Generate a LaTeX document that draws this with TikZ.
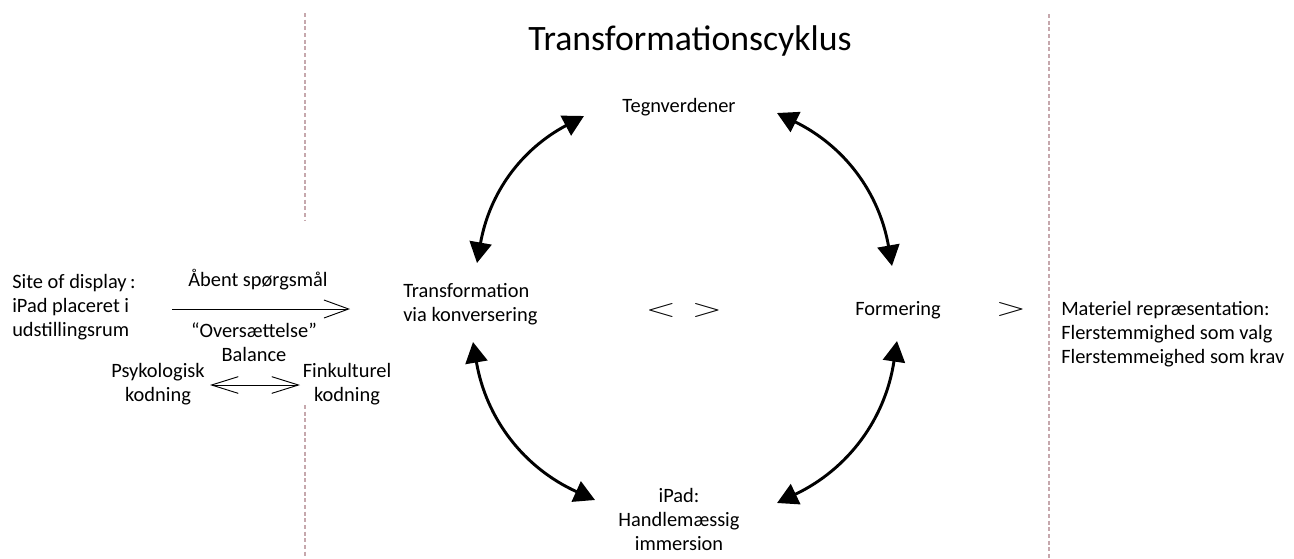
\documentclass[tikz,border=0pt]{standalone}
\usepackage{fontspec}
\setmainfont{Carlito}
\usepackage{graphicx}
\usetikzlibrary{arrows.meta}
\definecolor{sepcol}{RGB}{198,168,173}
% multi-line text whose baseline is the baseline of its first line
\newcommand{\mlines}[2]{\begin{tabular}[t]{@{}#1@{}}#2\end{tabular}}
\begin{document}
\begin{tikzpicture}[x=0.75pt,y=-0.75pt,
  txt/.style={font=\fontsize{15.3}{18}\selectfont, inner sep=0pt},
  sym/.style={inner sep=0pt},
  cyc/.style={line width=2.2pt,
    {Triangle[length=15.5pt,width=16.5pt]}-{Triangle[length=15.5pt,width=16.5pt]}},
  flow/.style={line width=0.7pt, -{Straight Barb[length=18.5pt,width=13.5pt]}},
  flowboth/.style={line width=0.7pt,
    {Straight Barb[length=20pt,width=12.5pt]}-{Straight Barb[length=20pt,width=12.5pt]}},
  sep/.style={draw=sepcol, line width=0.8pt, dash pattern=on 3pt off 2pt}]
\useasboundingbox (0,0) rectangle (1294,558);

% separators
\coordinate (s1a) at (305,13);  \coordinate (s1b) at (305,220);
\coordinate (s2a) at (305,405); \coordinate (s2b) at (305,558);
\coordinate (s3a) at (1049,14); \coordinate (s3b) at (1049,558);
\draw[sep] (s1a) -- (s1b);
\draw[sep] (s2a) -- (s2b);
\draw[sep] (s3a) -- (s3b);

% title
\node[anchor=base, inner sep=0pt, font=\fontsize{26.8}{30}\selectfont] (title) at (690,50) {Transformationscyklus};

% cycle stations
\node[txt, anchor=base] (tegn) at (679,112) {Tegnverdener};
\node[txt, anchor=base west] (trans) at (403,297) {\mlines{l}{Transformation\\via konversering}};
\node[txt, anchor=base] (form) at (898,315) {Formering};
\node[txt, anchor=base] (ipad) at (679,502) {\mlines{c}{iPad:\\Handlemæssig\\immersion}};

\node[sym] (lt) at (661,310) {\scalebox{2.9}[1.8]{$<$}};
\node[sym] (gt) at (707,310) {\scalebox{2.9}[1.8]{$>$}};
\node[sym] (gt2) at (1011,309) {\scalebox{2.9}[1.8]{$>$}};

\node[txt, anchor=base west] (mat) at (1061,315) {\mlines{l}{Materiel repræsentation:\\Flerstemmighed som valg\\Flerstemmeighed som krav}};

% cycle arrows
\coordinate (tlA) at (584,116); \coordinate (tlB) at (477,263);
\coordinate (trA) at (777,113); \coordinate (trB) at (892,266);
\coordinate (blA) at (473,342); \coordinate (blB) at (595,500);
\coordinate (brA) at (897,341); \coordinate (brB) at (777,503);
\draw[cyc] (tlA) to[bend right=26] (tlB);
\draw[cyc] (trA) to[bend left=27] (trB);
\draw[cyc] (blA) to[bend right=28] (blB);
\draw[cyc] (brA) to[bend left=28] (brB);

% left panel
\node[txt, anchor=base west] (site) at (12,288) {\mlines{l}{Site of display\,:\\iPad placeret i\\udstillingsrum}};
\node[txt, anchor=base] (aabent) at (258,286) {Åbent spørgsmål};
\coordinate (fa) at (172,309); \coordinate (fb) at (350,309);
\draw[flow] (fa) -- (fb);
\node[txt, anchor=base] (overs) at (254,337) {\mlines{c}{“Oversættelse”\\Balance}};
\node[txt, anchor=base] (psyk) at (158,377) {\mlines{c}{Psykologisk\\kodning}};
\node[txt, anchor=base] (fink) at (347,377) {\mlines{c}{Finkulturel\\kodning}};
\coordinate (da) at (210,385); \coordinate (db) at (300,385);
\draw[flowboth] (da) -- (db);
\end{tikzpicture}
\end{document}
